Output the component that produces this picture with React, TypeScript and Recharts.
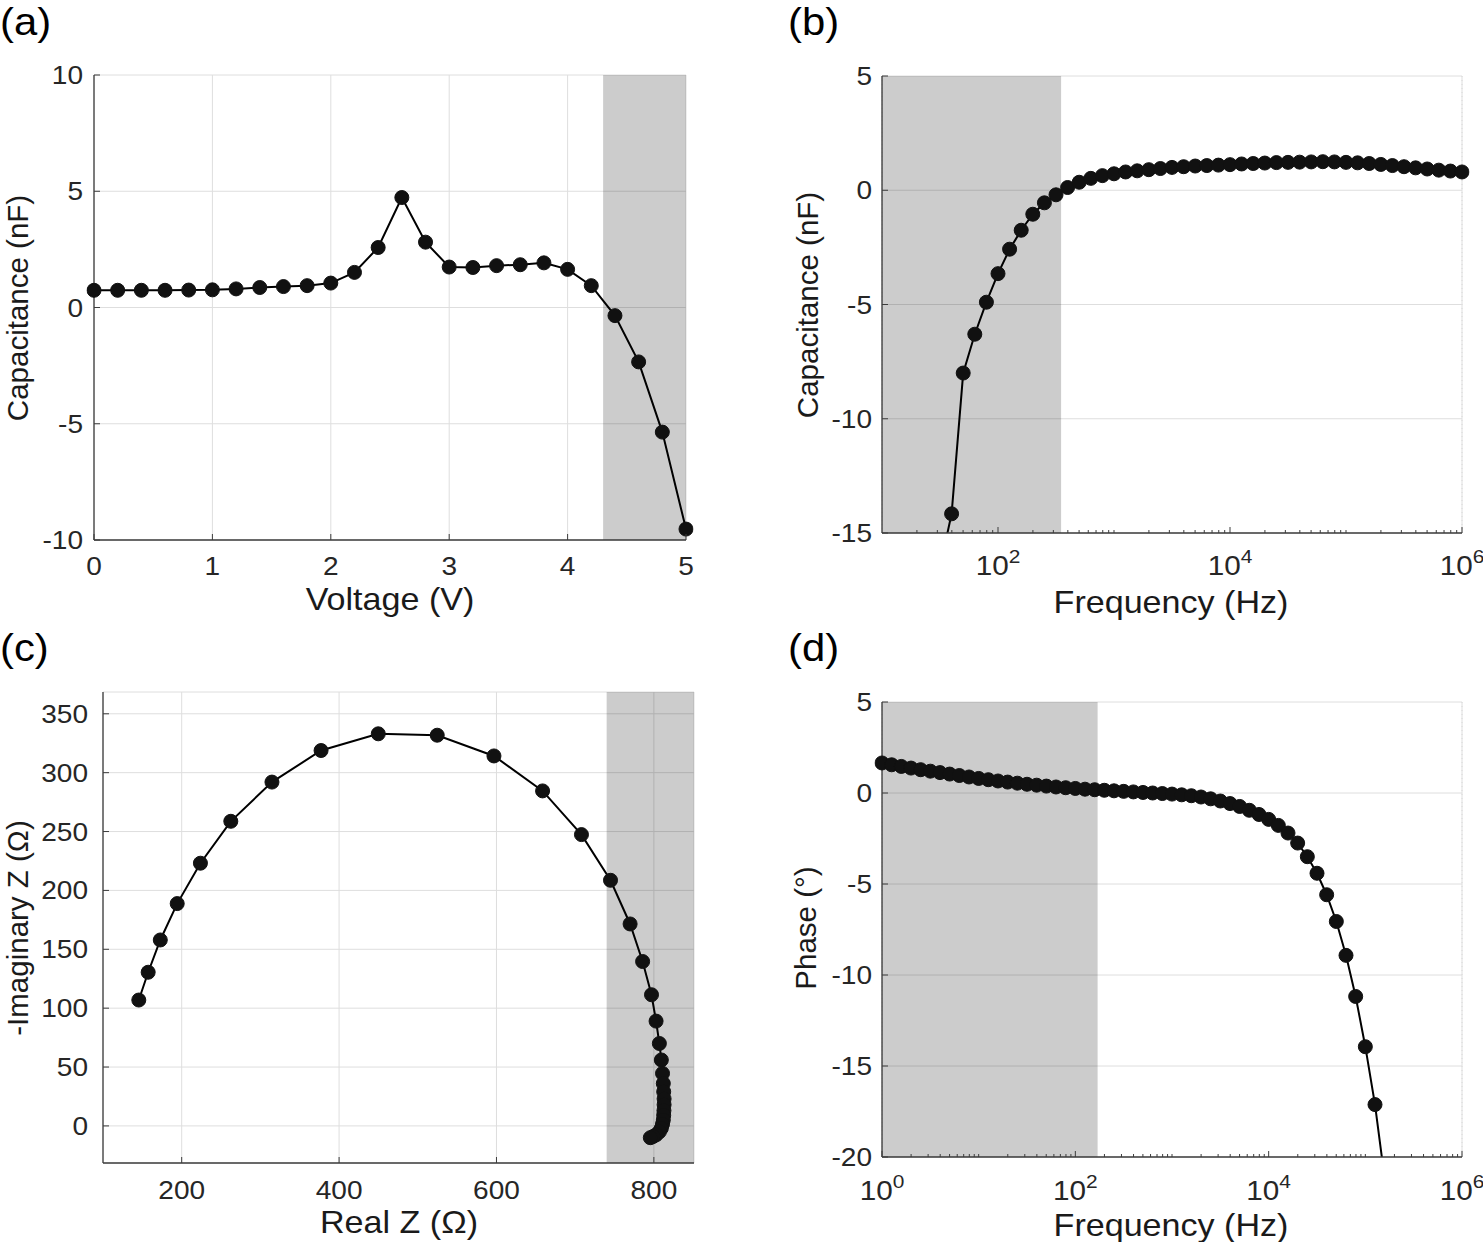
import { LineChart, Line, XAxis, YAxis, CartesianGrid, ReferenceArea } from 'recharts'

// (a) capacitance vs bias voltage
const voltage = [0, 0.2, 0.4, 0.6, 0.8, 1.0, 1.2, 1.4, 1.6, 1.8, 2.0, 2.2, 2.4, 2.6, 2.8, 3.0, 3.2, 3.4, 3.6, 3.8, 4.0, 4.2, 4.4, 4.6, 4.8, 5.0]
const capVsVoltage = [0.74, 0.74, 0.74, 0.74, 0.75, 0.76, 0.8, 0.86, 0.9, 0.94, 1.05, 1.51, 2.58, 4.73, 2.81, 1.74, 1.72, 1.8, 1.84, 1.92, 1.64, 0.94, -0.35, -2.34, -5.36, -9.53]

// (b) capacitance vs frequency, frequency given as log10(Hz)
const freqExpB = [1.5, 1.6, 1.7, 1.8, 1.9, 2.0, 2.1, 2.2, 2.3, 2.4, 2.5, 2.6, 2.7, 2.8, 2.9, 3.0, 3.1, 3.2, 3.3, 3.4, 3.5, 3.6, 3.7, 3.8, 3.9, 4.0, 4.1, 4.2, 4.3, 4.4, 4.5, 4.6, 4.7, 4.8, 4.9, 5.0, 5.1, 5.2, 5.3, 5.4, 5.5, 5.6, 5.7, 5.8, 5.9, 6.0]
const capVsFreq = [-16.5, -14.16, -8.0, -6.3, -4.9, -3.65, -2.58, -1.75, -1.05, -0.55, -0.2, 0.12, 0.35, 0.52, 0.64, 0.72, 0.8, 0.85, 0.9, 0.95, 1.0, 1.03, 1.06, 1.08, 1.1, 1.12, 1.15, 1.17, 1.19, 1.21, 1.22, 1.23, 1.24, 1.25, 1.24, 1.22, 1.2, 1.17, 1.13, 1.08, 1.03, 0.98, 0.93, 0.88, 0.84, 0.8]

// (c) Nyquist plot
const realZ = [145.5, 157.4, 172.8, 194.3, 223.8, 262.4, 314.7, 377.1, 449.8, 524.7, 596.8, 658.6, 708, 744.9, 769.8, 785.7, 797, 802.8, 807, 809.5, 811, 812, 812.5, 813, 813, 812.8, 812.5, 812, 811, 809.5, 807, 803, 799, 795.5]
const imagZ = [106.9, 130.5, 157.9, 188.8, 223.1, 258.7, 292, 318.8, 333, 331.8, 314.2, 284.5, 247.4, 208.6, 171.5, 139.6, 111.4, 89, 70, 56, 44.6, 36, 29, 23, 18, 13, 9, 5, 1.5, -2, -5, -7.5, -9, -10]

// (d) phase vs frequency, frequency given as log10(Hz)
const freqExpD = [0, 0.1, 0.2, 0.3, 0.4, 0.5, 0.6, 0.7, 0.8, 0.9, 1.0, 1.1, 1.2, 1.3, 1.4, 1.5, 1.6, 1.7, 1.8, 1.9, 2.0, 2.1, 2.2, 2.3, 2.4, 2.5, 2.6, 2.7, 2.8, 2.9, 3.0, 3.1, 3.2, 3.3, 3.4, 3.5, 3.6, 3.7, 3.8, 3.9, 4.0, 4.1, 4.2, 4.3, 4.4, 4.5, 4.6, 4.7, 4.8, 4.9, 5.0, 5.1, 5.2]
const phaseDeg = [
  1.65, 1.55, 1.46, 1.37, 1.28, 1.2, 1.12, 1.04, 0.96, 0.88,
  0.8, 0.73, 0.66, 0.6, 0.54, 0.48, 0.43, 0.38, 0.33, 0.29,
  0.25, 0.21, 0.18, 0.15, 0.12, 0.09, 0.06, 0.03, 0.0, -0.03,
  -0.06, -0.1, -0.15, -0.22, -0.32, -0.44, -0.58, -0.74, -0.95, -1.18,
  -1.45, -1.78, -2.2, -2.75, -3.5, -4.41, -5.59, -7.06, -8.92, -11.18,
  -13.94, -17.12, -21.2,
]

// ticks
const voltTicks = [0, 1, 2, 3, 4, 5]
const capTicksA = [-10, -5, 0, 5, 10]
const capTicksB = [-15, -10, -5, 0, 5]
const realTicks = [200, 400, 600, 800]
const imagTicks = [0, 50, 100, 150, 200, 250, 300, 350]
const phaseTicks = [-20, -15, -10, -5, 0, 5]
const freqTicksB = [1e2, 1e4, 1e6]
const freqTicksD = [1e0, 1e2, 1e4, 1e6]

const FONT = '"Liberation Sans", Arial, Helvetica, sans-serif'
const INK = '#262626'
const BOX = '#3c3c3c'
const GRID = '#dedede'
const SX = 1.1 // the source figure is slightly stretched horizontally
const TICK_FS = 25.5
const TITLE_FS = 31
const DOT = { r: 7, fill: '#111', stroke: '#111', strokeWidth: 1, clipDot: false }

const dataA = voltage.map((v, i) => ({ x: v, y: capVsVoltage[i] }))
const dataB = freqExpB.map((e, i) => ({ x: 10 ** e, y: capVsFreq[i] }))
const dataC = realZ.map((r, i) => ({ x: r, y: imagZ[i] }))
const dataD = freqExpD.map((e, i) => ({ x: 10 ** e, y: phaseDeg[i] }))

// minor log gridlines (k * 10^d) that are not labelled decades
function minorLog(lo: number, hi: number, majors: number[]) {
  const out: number[] = []
  for (let d = lo; d < hi; d++) {
    for (let k = 1; k <= 9; k++) {
      const v = k * 10 ** d
      if (v > 10 ** lo && !majors.includes(v)) out.push(v)
    }
  }
  return out
}
const minorB = minorLog(1, 6, freqTicksB)
const minorD = minorLog(0, 6, freqTicksD)

function Txt({ x, y, anchor, size, children, color = INK }: any) {
  return (
    <g transform={`translate(${x},${y}) scale(${SX},1)`}>
      <text x={0} y={0} textAnchor={anchor} fontSize={size} fontFamily={FONT} fill={color}>
        {children}
      </text>
    </g>
  )
}

const leftTick = (gap: number) => (p: any) => (
  <g>
    <line x1={p.x} y1={p.y} x2={p.x + 6} y2={p.y} stroke={BOX} />
    <Txt x={p.x - gap} y={p.y + 9} anchor="end" size={TICK_FS}>{p.payload.value}</Txt>
  </g>
)

const rightTick = (p: any) => <line x1={p.x - 6} y1={p.y} x2={p.x} y2={p.y} stroke={BOX} />

const topTick = (len: number) => (p: any) => <line x1={p.x} y1={p.y} x2={p.x} y2={p.y + len} stroke={BOX} />

const bottomTick = (dy: number) => (p: any) => (
  <g>
    <line x1={p.x} y1={p.y} x2={p.x} y2={p.y - 6} stroke={BOX} />
    <Txt x={p.x} y={p.y + dy} anchor="middle" size={TICK_FS}>{p.payload.value}</Txt>
  </g>
)

const logBottomTick = (majors: number[], dy: number) => (p: any) => {
  const v = p.payload.value
  const major = majors.includes(v)
  return (
    <g>
      <line x1={p.x} y1={p.y} x2={p.x} y2={p.y - (major ? 6 : 3)} stroke={BOX} />
      {major && (
        <g transform={`translate(${p.x},${p.y + dy}) scale(${SX},1)`}>
          <text x={0} y={0} textAnchor="middle" fontFamily={FONT} fill={INK}>
            <tspan fontSize={27}>10</tspan>
            <tspan fontSize={19} dy={-12}>{Math.round(Math.log10(v))}</tspan>
          </text>
        </g>
      )}
    </g>
  )
}

const xTitle = (x: number, y: number, text: string) => () => (
  <Txt x={x} y={y} anchor="middle" size={TITLE_FS} color="#1a1a1a">{text}</Txt>
)

const yTitle = (x: number, y: number, text: string) => () => (
  <text x={x} y={y} transform={`rotate(-90 ${x} ${y})`} textAnchor="middle" fontSize={29.5} fontFamily={FONT} fill="#1a1a1a">
    {text}
  </text>
)

const axisLine = { stroke: BOX, strokeWidth: 1.3 }

function PanelA() {
  return (
    <LineChart width={700} height={560} data={dataA} margin={{ top: 15, right: 14, left: 0, bottom: 0 }}>
      <XAxis xAxisId="main" dataKey="x" type="number" domain={[0, 5]} ticks={voltTicks} allowDataOverflow interval={0}
        height={80} tickSize={0} tickMargin={0} tickLine={false} axisLine={axisLine} tick={bottomTick(35)}
        label={xTitle(390, 550, 'Voltage (V)')} />
      <XAxis xAxisId="top" orientation="top" mirror type="number" domain={[0, 5]} ticks={voltTicks} allowDataOverflow interval={0}
        height={0} tickSize={0} tickMargin={0} tickLine={false} axisLine={axisLine} tick={topTick(6)} />
      <YAxis yAxisId="main" type="number" domain={[-10, 10]} ticks={capTicksA} allowDataOverflow interval={0}
        width={94} tickSize={0} tickMargin={0} tickLine={false} axisLine={axisLine} tick={leftTick(11)}
        label={yTitle(28, 248, 'Capacitance (nF)')} />
      <YAxis yAxisId="right" orientation="right" mirror type="number" domain={[-10, 10]} ticks={capTicksA} allowDataOverflow interval={0}
        width={0} tickSize={0} tickMargin={0} tickLine={false} axisLine={axisLine} tick={rightTick} />
      <CartesianGrid xAxisId="main" yAxisId="main" stroke={GRID} />
      <ReferenceArea xAxisId="main" yAxisId="main" x1={4.3} x2={5} fill="#000" fillOpacity={0.2} stroke="none" />
      <Line xAxisId="main" yAxisId="main" dataKey="y" type="linear" stroke="#000" strokeWidth={2}
        dot={DOT} activeDot={false} isAnimationActive={false} />
    </LineChart>
  )
}

function PanelB() {
  return (
    <LineChart width={703} height={560} data={dataB} margin={{ top: 16, right: 21, left: 0, bottom: 0 }}>
      <XAxis xAxisId="main" dataKey="x" type="number" scale="log" domain={[10, 1e6]} ticks={[...freqTicksB, ...minorB]}
        allowDataOverflow interval={0} height={87} tickSize={0} tickMargin={0} tickLine={false} axisLine={axisLine}
        tick={logBottomTick(freqTicksB, 42)} label={xTitle(391, 553, 'Frequency (Hz)')} />
      <XAxis xAxisId="top" orientation="top" mirror type="number" scale="log" domain={[10, 1e6]} ticks={freqTicksB}
        allowDataOverflow interval={0} height={0} tickSize={0} tickMargin={0} tickLine={false} axisLine={axisLine} tick={topTick(6)} />
      <XAxis xAxisId="topMinor" orientation="top" mirror type="number" scale="log" domain={[10, 1e6]} ticks={minorB}
        allowDataOverflow interval={0} height={0} tickSize={0} tickMargin={0} tickLine={false} axisLine={false} tick={topTick(3)} />
      <YAxis yAxisId="main" type="number" domain={[-15, 5]} ticks={capTicksB} allowDataOverflow interval={0}
        width={102} tickSize={0} tickMargin={0} tickLine={false} axisLine={axisLine} tick={leftTick(10)}
        label={yTitle(38, 245, 'Capacitance (nF)')} />
      <YAxis yAxisId="right" orientation="right" mirror type="number" domain={[-15, 5]} ticks={capTicksB} allowDataOverflow interval={0}
        width={0} tickSize={0} tickMargin={0} tickLine={false} axisLine={axisLine} tick={rightTick} />
      <CartesianGrid xAxisId="topMinor" yAxisId="main" horizontal={false} stroke="#d4d4d4" strokeDasharray="1 3" />
      <CartesianGrid xAxisId="top" yAxisId="main" stroke={GRID} />
      <ReferenceArea xAxisId="main" yAxisId="main" x1={10} x2={350} fill="#000" fillOpacity={0.2} stroke="none" />
      <Line xAxisId="main" yAxisId="main" dataKey="y" type="linear" stroke="#000" strokeWidth={2}
        dot={DOT} activeDot={false} isAnimationActive={false} />
    </LineChart>
  )
}

function PanelC() {
  return (
    <LineChart width={720} height={562} data={dataC} margin={{ top: 12, right: 26, left: 0, bottom: 0 }}>
      <XAxis xAxisId="main" dataKey="x" type="number" domain={[100, 851]} ticks={realTicks} allowDataOverflow interval={0}
        height={79} tickSize={0} tickMargin={0} tickLine={false} axisLine={axisLine} tick={bottomTick(36)}
        label={xTitle(399, 553, 'Real Z (Ω)')} />
      <XAxis xAxisId="top" orientation="top" mirror type="number" domain={[100, 851]} ticks={realTicks} allowDataOverflow interval={0}
        height={0} tickSize={0} tickMargin={0} tickLine={false} axisLine={axisLine} tick={topTick(6)} />
      <YAxis yAxisId="main" type="number" domain={[-31.5, 368.5]} ticks={imagTicks} allowDataOverflow interval={0}
        width={103} tickSize={0} tickMargin={0} tickLine={false} axisLine={axisLine} tick={leftTick(15)}
        label={yTitle(28, 248, '-Imaginary Z (Ω)')} />
      <YAxis yAxisId="right" orientation="right" mirror type="number" domain={[-31.5, 368.5]} ticks={imagTicks} allowDataOverflow interval={0}
        width={0} tickSize={0} tickMargin={0} tickLine={false} axisLine={axisLine} tick={rightTick} />
      <CartesianGrid xAxisId="main" yAxisId="main" stroke={GRID} />
      <ReferenceArea xAxisId="main" yAxisId="main" x1={740} x2={851} fill="#000" fillOpacity={0.2} stroke="none" />
      <Line xAxisId="main" yAxisId="main" dataKey="y" type="linear" stroke="#000" strokeWidth={2}
        dot={DOT} activeDot={false} isAnimationActive={false} />
    </LineChart>
  )
}

function PanelD() {
  return (
    <LineChart width={703} height={562} data={dataD} margin={{ top: 22, right: 21, left: 0, bottom: 0 }}>
      <XAxis xAxisId="main" dataKey="x" type="number" scale="log" domain={[1, 1e6]} ticks={[...freqTicksD, ...minorD]}
        allowDataOverflow interval={0} height={85} tickSize={0} tickMargin={0} tickLine={false} axisLine={axisLine}
        tick={logBottomTick(freqTicksD, 43)} label={xTitle(391, 556, 'Frequency (Hz)')} />
      <XAxis xAxisId="top" orientation="top" mirror type="number" scale="log" domain={[1, 1e6]} ticks={freqTicksD}
        allowDataOverflow interval={0} height={0} tickSize={0} tickMargin={0} tickLine={false} axisLine={axisLine} tick={topTick(6)} />
      <XAxis xAxisId="topMinor" orientation="top" mirror type="number" scale="log" domain={[1, 1e6]} ticks={minorD}
        allowDataOverflow interval={0} height={0} tickSize={0} tickMargin={0} tickLine={false} axisLine={false} tick={topTick(3)} />
      <YAxis yAxisId="main" type="number" domain={[-20, 5]} ticks={phaseTicks} allowDataOverflow interval={0}
        width={102} tickSize={0} tickMargin={0} tickLine={false} axisLine={axisLine} tick={leftTick(10)}
        label={yTitle(36, 248, 'Phase (°)')} />
      <YAxis yAxisId="right" orientation="right" mirror type="number" domain={[-20, 5]} ticks={phaseTicks} allowDataOverflow interval={0}
        width={0} tickSize={0} tickMargin={0} tickLine={false} axisLine={axisLine} tick={rightTick} />
      <CartesianGrid xAxisId="topMinor" yAxisId="main" horizontal={false} stroke="#d4d4d4" strokeDasharray="1 3" />
      <CartesianGrid xAxisId="top" yAxisId="main" stroke={GRID} />
      <ReferenceArea xAxisId="main" yAxisId="main" x1={1} x2={170} fill="#000" fillOpacity={0.2} stroke="none" />
      <Line xAxisId="main" yAxisId="main" dataKey="y" type="linear" stroke="#000" strokeWidth={2}
        dot={DOT} activeDot={false} isAnimationActive={false} />
    </LineChart>
  )
}

export default function App() {
  const place = (left: number, top: number) => ({ position: 'absolute' as const, left, top })
  return (
    <div style={{ position: 'absolute', left: 0, top: 0, width: 1483, height: 1242, background: '#fff', fontFamily: FONT }}>
      <div style={place(0, 60)}><PanelA /></div>
      <div style={place(780, 60)}><PanelB /></div>
      <div style={place(0, 680)}><PanelC /></div>
      <div style={place(780, 680)}><PanelD /></div>
      {/* panel letters */}
      <svg width={1483} height={1242} style={{ position: 'absolute', left: 0, top: 0, pointerEvents: 'none' }}>
        <Txt x={0} y={35} anchor="start" size={38} color="#000">(a)</Txt>
        <Txt x={788} y={35} anchor="start" size={38} color="#000">(b)</Txt>
        <Txt x={0} y={661} anchor="start" size={38} color="#000">(c)</Txt>
        <Txt x={788} y={661} anchor="start" size={38} color="#000">(d)</Txt>
      </svg>
    </div>
  )
}
